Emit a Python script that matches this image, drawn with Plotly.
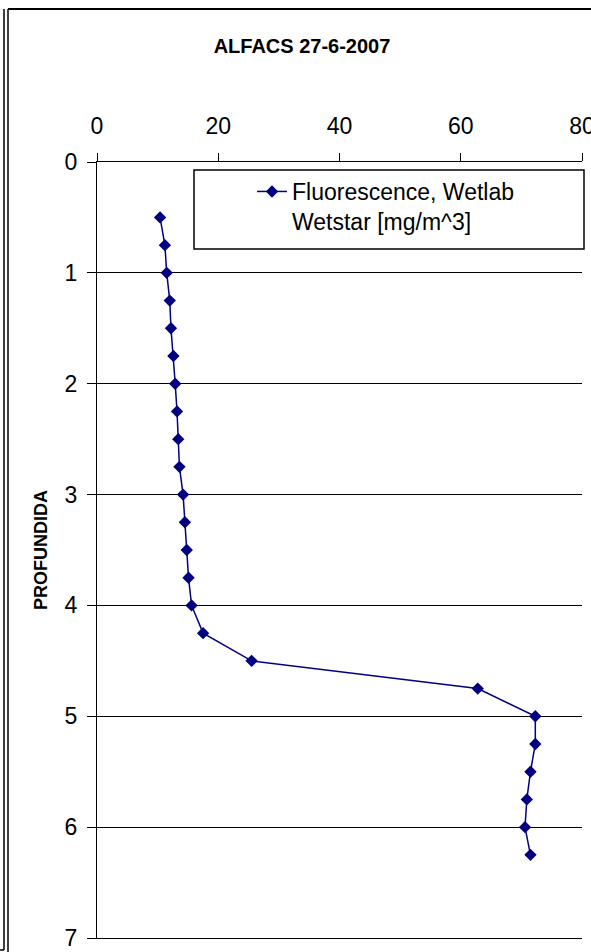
import plotly.graph_objects as go

# profundidad (m) y fluorescencia (mg/m^3)
depth = [0.5, 0.75, 1.0, 1.25, 1.5, 1.75, 2.0, 2.25, 2.5, 2.75, 3.0, 3.25,
         3.5, 3.75, 4.0, 4.25, 4.5, 4.75, 5.0, 5.25, 5.5, 5.75, 6.0, 6.25]
fluor = [10.4, 11.2, 11.5, 12.0, 12.2, 12.6, 12.9, 13.2, 13.4, 13.6, 14.2, 14.5,
         14.8, 15.1, 15.6, 17.5, 25.5, 62.8, 72.3, 72.3, 71.5, 70.9, 70.6, 71.5]

series_name = "Fluorescence, Wetlab<br>Wetstar [mg/m^3]"
title_text = "<b>ALFACS 27-6-2007</b>"
y_title = "<b>PROFUNDIDA</b>"

W, H = 591, 952
ML, MR, MT, MB = 97, 9, 162, 14
PW, PH = W - ML - MR, H - MT - MB


def px(x):
    return (x - ML) / PW


def py(y):
    return (H - MB - y) / PH


NAVY = "rgb(0,0,128)"
FONT = "Liberation Sans, Arial, sans-serif"

fig = go.Figure()
fig.add_trace(go.Scatter(
    x=fluor, y=depth, mode="lines+markers", name=series_name,
    line=dict(color=NAVY, width=1.5),
    marker=dict(symbol="diamond", size=9.5, color=NAVY),
))

# marco exterior y caja de la leyenda
line_black = dict(color="black", width=1.5)
shapes = [
    dict(type="line", xref="paper", yref="paper", x0=px(4), x1=px(4), y0=py(9), y1=py(950), line=line_black),
    dict(type="line", xref="paper", yref="paper", x0=px(0), x1=px(4), y0=py(950), y1=py(950), line=line_black),
    dict(type="line", xref="paper", yref="paper", x0=px(8), x1=px(8), y0=py(9), y1=py(952), line=line_black),
    dict(type="line", xref="paper", yref="paper", x0=px(8), x1=px(591), y0=py(9), y1=py(9), line=dict(color="black", width=2)),
    dict(type="rect", xref="paper", yref="paper", x0=px(194), x1=px(584), y0=py(170), y1=py(249),
         line=dict(color="black", width=1.5), fillcolor="white", layer="above"),
]

fig.update_layout(
    width=W, height=H,
    margin=dict(l=ML, r=MR, t=MT, b=MB, pad=0, autoexpand=False),
    paper_bgcolor="white", plot_bgcolor="white",
    font=dict(family=FONT, size=23, color="black"),
    title=dict(text=title_text, font=dict(size=20, color="black"),
               x=302 / W, xref="container", xanchor="center",
               y=1 - 46 / H, yref="container", yanchor="middle"),
    showlegend=True,
    legend=dict(x=px(252), y=py(170), xanchor="left", yanchor="top",
                bgcolor="rgba(0,0,0,0)", borderwidth=0,
                font=dict(size=23, color="black"), valign="top"),
    shapes=shapes,
)

fig.update_xaxes(
    side="top", range=[0, 80], dtick=20, tick0=0,
    ticks="outside", ticklen=8, tickwidth=1, tickcolor="black",
    ticklabelstandoff=10, ticklabeloverflow="allow",
    showline=True, linecolor="black", linewidth=1, mirror=True,
    showgrid=False, zeroline=False,
)
fig.update_yaxes(
    range=[7, 0], dtick=1, tick0=0,
    ticks="outside", ticklen=9, tickwidth=1, tickcolor="black",
    ticklabelstandoff=5, ticklabeloverflow="allow",
    showline=True, linecolor="black", linewidth=1,
    showgrid=True, gridcolor="black", gridwidth=1, zeroline=False,
    title=dict(text=y_title, font=dict(size=18), standoff=12),
)

fig.write_html("out.html", config={"displayModeBar": False},
               post_script="document.body.style.margin='0';document.body.style.overflow='hidden';")
